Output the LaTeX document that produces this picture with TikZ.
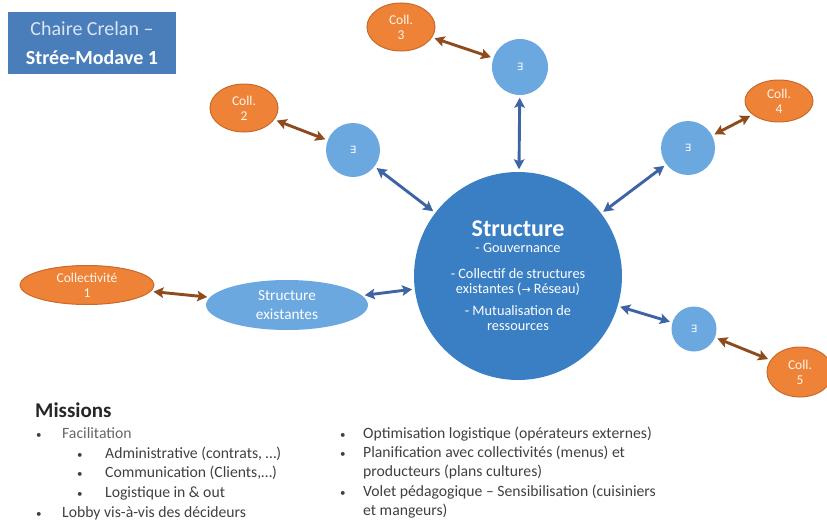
\documentclass[tikz,border=0pt]{standalone}
\usepackage{fontspec}
\setmainfont{Carlito}
\newfontfamily\symfont{DejaVu Sans}
\usetikzlibrary{shapes.geometric,arrows.meta}

\definecolor{titlefill}{HTML}{4A7EBB}
\definecolor{titletext}{HTML}{D9E5F4}
\definecolor{hubfill}{HTML}{3A7FC3}
\definecolor{nodefill}{HTML}{6AA8DF}
\definecolor{collfill}{HTML}{EE8237}
\definecolor{collborder}{HTML}{C96A2C}
\definecolor{collink}{HTML}{8E4B1E}
\definecolor{hublink}{HTML}{3F64A4}
\definecolor{bodytext}{HTML}{404040}

\tikzset{
  titlebox/.style={rectangle, fill=titlefill, minimum width=168pt, minimum height=62pt,
    inner sep=0pt, align=center, font=\fontsize{20}{29}\selectfont},
  hub/.style={circle, fill=hubfill, minimum size=208pt, inner sep=0pt, text=white,
    align=center, font=\fontsize{14.3}{15}\selectfont},
  member/.style={circle, fill=nodefill, minimum size=#1, inner sep=0pt, text=white,
    font=\symfont\fontsize{10}{12}\selectfont},
  member/.default=54pt,
  coll/.style={ellipse, draw=collborder, line width=1pt, fill=collfill, inner sep=0pt,
    text=white!92!collfill, align=center, font=\fontsize{13.5}{15}\selectfont},
  existing/.style={ellipse, fill=nodefill, minimum width=162pt, minimum height=50pt,
    inner sep=0pt, text=white, align=center, font=\fontsize{15.3}{19.5}\selectfont},
  link/.style={line width=2.9pt, shorten >=2.5pt, shorten <=2.5pt,
    {Stealth[length=10pt,width=10.5pt,inset=2pt]}-{Stealth[length=10pt,width=10.5pt,inset=2pt]}},
  hubarrow/.style={link, draw=hublink},
  collarrow/.style={link, draw=collink},
  heading/.style={anchor=base west, inner sep=0pt, text=black!85,
    font=\bfseries\fontsize{21}{23}\selectfont},
  item/.style={anchor=base west, inner sep=0pt, text=bodytext,
    font=\fontsize{15.7}{18}\selectfont},
  dot/.style={anchor=base west, inner sep=0pt, text=bodytext,
    font=\fontsize{11}{12}\selectfont},
}

\begin{document}
\begin{tikzpicture}[x=1pt,y=-1pt]
\useasboundingbox (0,0) rectangle (827,522);

% title block
\node[titlebox] (title) at (92,43)
  {{\color{titletext}Chaire Crelan --}\\{\color{white}\bfseries Strée-Modave 1}};

% central structure
\node[hub] (hub) at (518,276)
  {{\fontsize{24}{25}\selectfont\bfseries Structure}\\[1pt]
   - Gouvernance\\[11pt]
   - Collectif de structures\\
   existantes ({\symfont\fontsize{11}{12}\selectfont→} Réseau)\\[7pt]
   - Mutualisation de\\
   ressources};

% member structures
\node[member] (e2) at (353,150) {∃};
\node[member=56pt] (e3) at (520,67) {∃};
\node[member] (e4) at (688,148) {∃};
\node[member=45pt] (e5) at (694,329) {∃};
\node[existing] (ex) at (287,305) {Structure\\existantes};

% collectivities
\node[coll, minimum width=134pt, minimum height=39pt] (c1) at (87,285) {Collectivité\\1};
\node[coll, minimum width=68pt, minimum height=48pt] (c2) at (244,108) {Coll.\\2};
\node[coll, minimum width=68pt, minimum height=48pt] (c3) at (401,27) {Coll.\\3};
\node[coll, minimum width=68pt, minimum height=42pt] (c4) at (779,101) {Coll.\\4};
\node[coll, minimum width=66pt, minimum height=50pt] (c5) at (800,372) {Coll.\\5};

% links to the central structure
\draw[hubarrow] (e2) -- (hub);
\draw[hubarrow] (e3) -- (hub);
\draw[hubarrow] (e4) -- (hub);
\draw[hubarrow] (e5) -- (hub);
\draw[hubarrow] (ex) -- (hub);

% links to the collectivities
\draw[collarrow] (c1) -- (ex);
\draw[collarrow] (c2) -- (e2);
\draw[collarrow] (c3) -- (e3);
\draw[collarrow] (c4) -- (e4);
\draw[collarrow] (c5) -- (e5);

% missions, left column
\node[heading] (missions) at (35,417) {Missions};
\node[dot] (b1) at (36,438) {•};
\node[item, text=bodytext!80] (m1) at (62,438) {Facilitation};
\node[dot] (b11) at (77,458) {•};
\node[item] (m11) at (105,458) {Administrative (contrats, …)};
\node[dot] (b12) at (77,477) {•};
\node[item] (m12) at (105,477) {Communication (Clients,…)};
\node[dot] (b13) at (77,497) {•};
\node[item] (m13) at (105,497) {Logistique in \& out};
\node[dot] (b2) at (36,517) {•};
\node[item] (m2) at (62,517) {Lobby vis-à-vis des décideurs};

% missions, right column
\node[dot] (b3) at (340,438) {•};
\node[item] (m3) at (363,438) {Optimisation logistique (opérateurs externes)};
\node[dot] (b4) at (340,457) {•};
\node[item] (m4) at (363,457) {Planification avec collectivités (menus) et};
\node[item] (m4b) at (363,476) {producteurs (plans cultures)};
\node[dot] (b5) at (340,496) {•};
\node[item] (m5) at (363,496) {Volet pédagogique -- Sensibilisation (cuisiniers};
\node[item] (m5b) at (363,515) {et mangeurs)};
\end{tikzpicture}
\end{document}
